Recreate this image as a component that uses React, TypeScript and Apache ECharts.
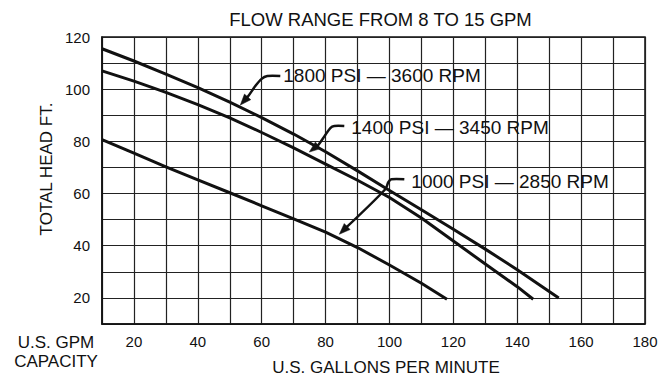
import React, { useEffect, useRef } from 'react';
import * as echarts from 'echarts';

const FONT = '"Liberation Sans", Arial, Helvetica, sans-serif';
const INK = '#111111';

const title = 'FLOW RANGE FROM 8 TO 15 GPM';
const xAxisTitle = 'U.S. GALLONS PER MINUTE';
const yAxisTitle = 'TOTAL HEAD FT.';
const capacityLines = ['U.S. GPM', 'CAPACITY'];

const seriesNames = ['1800 PSI — 3600 RPM', '1400 PSI — 3450 RPM', '1000 PSI — 2850 RPM'];

const gpm1800 = [10, 20, 30, 40, 50, 60, 70, 80, 90, 100, 110, 120, 130, 140, 153];
const head1800 = [115.5, 110.8, 105.8, 100.6, 95.0, 89.1, 82.8, 76.0, 68.7, 61.2, 53.8, 46.3, 38.7, 30.8, 20];

const gpm1400 = [10, 20, 30, 40, 50, 60, 70, 80, 90, 100, 110, 120, 130, 140, 145];
const head1400 = [107, 103.1, 98.8, 94.1, 89.0, 83.4, 77.5, 71.3, 65.1, 58.5, 50.6, 41.8, 33.0, 24.3, 19.5];

const gpm1000 = [10, 20, 30, 40, 50, 60, 70, 80, 90, 100, 110, 118];
const head1000 = [80.7, 75.5, 70.2, 65.2, 60.3, 55.3, 50.3, 45.2, 39.3, 32.6, 25.6, 19.5];

const xMin = 10;
const xMax = 180;
const yMin = 10;
const yMax = 120;
const gridStep = 10;
const labelStep = 20;

// arrow tips of the annotations, in data coordinates
const tip1800 = [53.3, 93.9];
const tip1400 = [74.9, 75.9];
const tip1000 = [84.3, 44.4];

function pairs(xs: number[], ys: number[]) {
  return xs.map((x, i) => [x, ys[i]]);
}

export default function App() {
  const ref = useRef<HTMLDivElement>(null);

  useEffect(() => {
    if (!ref.current) return;
    const chart = echarts.init(ref.current, null, { renderer: 'svg' });

    const lineSeries = (name: string, data: number[][]) => ({
      name,
      type: 'line',
      data,
      showSymbol: false,
      smooth: false,
      silent: true,
      lineStyle: { color: INK, width: 3, cap: 'butt', join: 'round' },
      z: 3,
    });

    chart.setOption({
      animation: false,
      backgroundColor: '#ffffff',
      grid: {
        left: 102,
        right: 25,
        top: 37,
        bottom: 51,
        show: true,
        borderColor: INK,
        borderWidth: 1.5,
        backgroundColor: 'transparent',
      },
      xAxis: {
        type: 'value',
        min: xMin,
        max: xMax,
        interval: gridStep,
        axisLine: { show: true, lineStyle: { color: INK, width: 1.5 } },
        axisTick: { show: false },
        splitLine: { show: true, lineStyle: { color: '#222', width: 1.2 } },
        axisLabel: {
          margin: 10,
          color: INK,
          fontFamily: FONT,
          fontSize: 15,
          formatter: (v: number) => (v % labelStep === 0 && v > xMin ? String(v) : ''),
        },
      },
      yAxis: {
        type: 'value',
        min: yMin,
        max: yMax,
        interval: gridStep,
        axisLine: { show: true, lineStyle: { color: INK, width: 1.5 } },
        axisTick: { show: false },
        splitLine: { show: true, lineStyle: { color: '#222', width: 1.2 } },
        axisLabel: {
          margin: 12,
          color: INK,
          fontFamily: FONT,
          fontSize: 15,
          padding: [5, 0, 0, 0],
          formatter: (v: number) => (v % labelStep === 0 ? String(v) : ''),
        },
      },
      series: [
        lineSeries(seriesNames[0], pairs(gpm1800, head1800)),
        lineSeries(seriesNames[1], pairs(gpm1400, head1400)),
        lineSeries(seriesNames[2], pairs(gpm1000, head1000)),
      ],
    });

    const annotations = [
      { tip: tip1800, text: seriesNames[0], path: [[8, -9], [15, -19], [21, -26], [27, -29], [40, -29]], textAt: [43, -30] },
      { tip: tip1400, text: seriesNames[1], path: [[9, -7], [16, -17], [21, -24], [25, -26], [35, -26]], textAt: [42, -25] },
      { tip: tip1000, text: seriesNames[2], path: [[46, -45], [49, -52], [52, -55], [65, -55]], textAt: [72, -53] },
    ];

    const graphics: any[] = [];
    annotations.forEach((a) => {
      const p = chart.convertToPixel({ gridIndex: 0 }, a.tip) as number[];
      const tx = p[0];
      const ty = p[1];
      const first = a.path[0];
      let dx = -first[0];
      let dy = -first[1];
      const len = Math.sqrt(dx * dx + dy * dy);
      dx /= len;
      dy /= len;
      const L = 11;
      const W = 4.2;
      const bx = tx - dx * L;
      const by = ty - dy * L;
      const nx = -dy;
      const ny = dx;
      const pts: number[][] = a.path.map((o) => [tx + o[0], ty + o[1]]).reverse();
      pts.push([bx + dx * 2, by + dy * 2]);
      graphics.push({
        type: 'polyline',
        shape: { points: pts, smooth: 0.3 },
        style: { stroke: INK, lineWidth: 2.5, fill: null },
        z: 10,
      });
      graphics.push({
        type: 'polygon',
        shape: { points: [[tx, ty], [bx + nx * W, by + ny * W], [bx - nx * W, by - ny * W]] },
        style: { fill: INK, stroke: INK, lineWidth: 0.5 },
        z: 10,
      });
      graphics.push({
        type: 'text',
        x: tx + a.textAt[0],
        y: ty + a.textAt[1],
        style: {
          text: a.text,
          font: `19px ${FONT}`,
          fill: INK,
          textAlign: 'left',
          textVerticalAlign: 'middle',
        },
        z: 10,
      });
    });

    graphics.push({
      type: 'text',
      x: 380.5,
      y: 19,
      style: { text: title, font: `18.5px ${FONT}`, fill: INK, textAlign: 'center', textVerticalAlign: 'middle' },
    });
    graphics.push({
      type: 'text',
      x: 46,
      y: 169,
      rotation: Math.PI / 2,
      style: { text: yAxisTitle, font: `17px ${FONT}`, fill: INK, textAlign: 'center', textVerticalAlign: 'middle' },
    });
    graphics.push({
      type: 'text',
      x: 386,
      y: 367,
      style: { text: xAxisTitle, font: `17px ${FONT}`, fill: INK, textAlign: 'center', textVerticalAlign: 'middle' },
    });
    capacityLines.forEach((t, i) => {
      graphics.push({
        type: 'text',
        x: 56,
        y: 342.5 + i * 18.5,
        style: { text: t, font: `17px ${FONT}`, fill: INK, textAlign: 'center', textVerticalAlign: 'middle' },
      });
    });

    chart.setOption({ graphic: graphics });

    return () => {
      chart.dispose();
    };
  }, []);

  return (
    <div
      ref={ref}
      style={{ position: 'absolute', left: 0, top: 0, width: 670, height: 375, background: '#fff' }}
    />
  );
}
